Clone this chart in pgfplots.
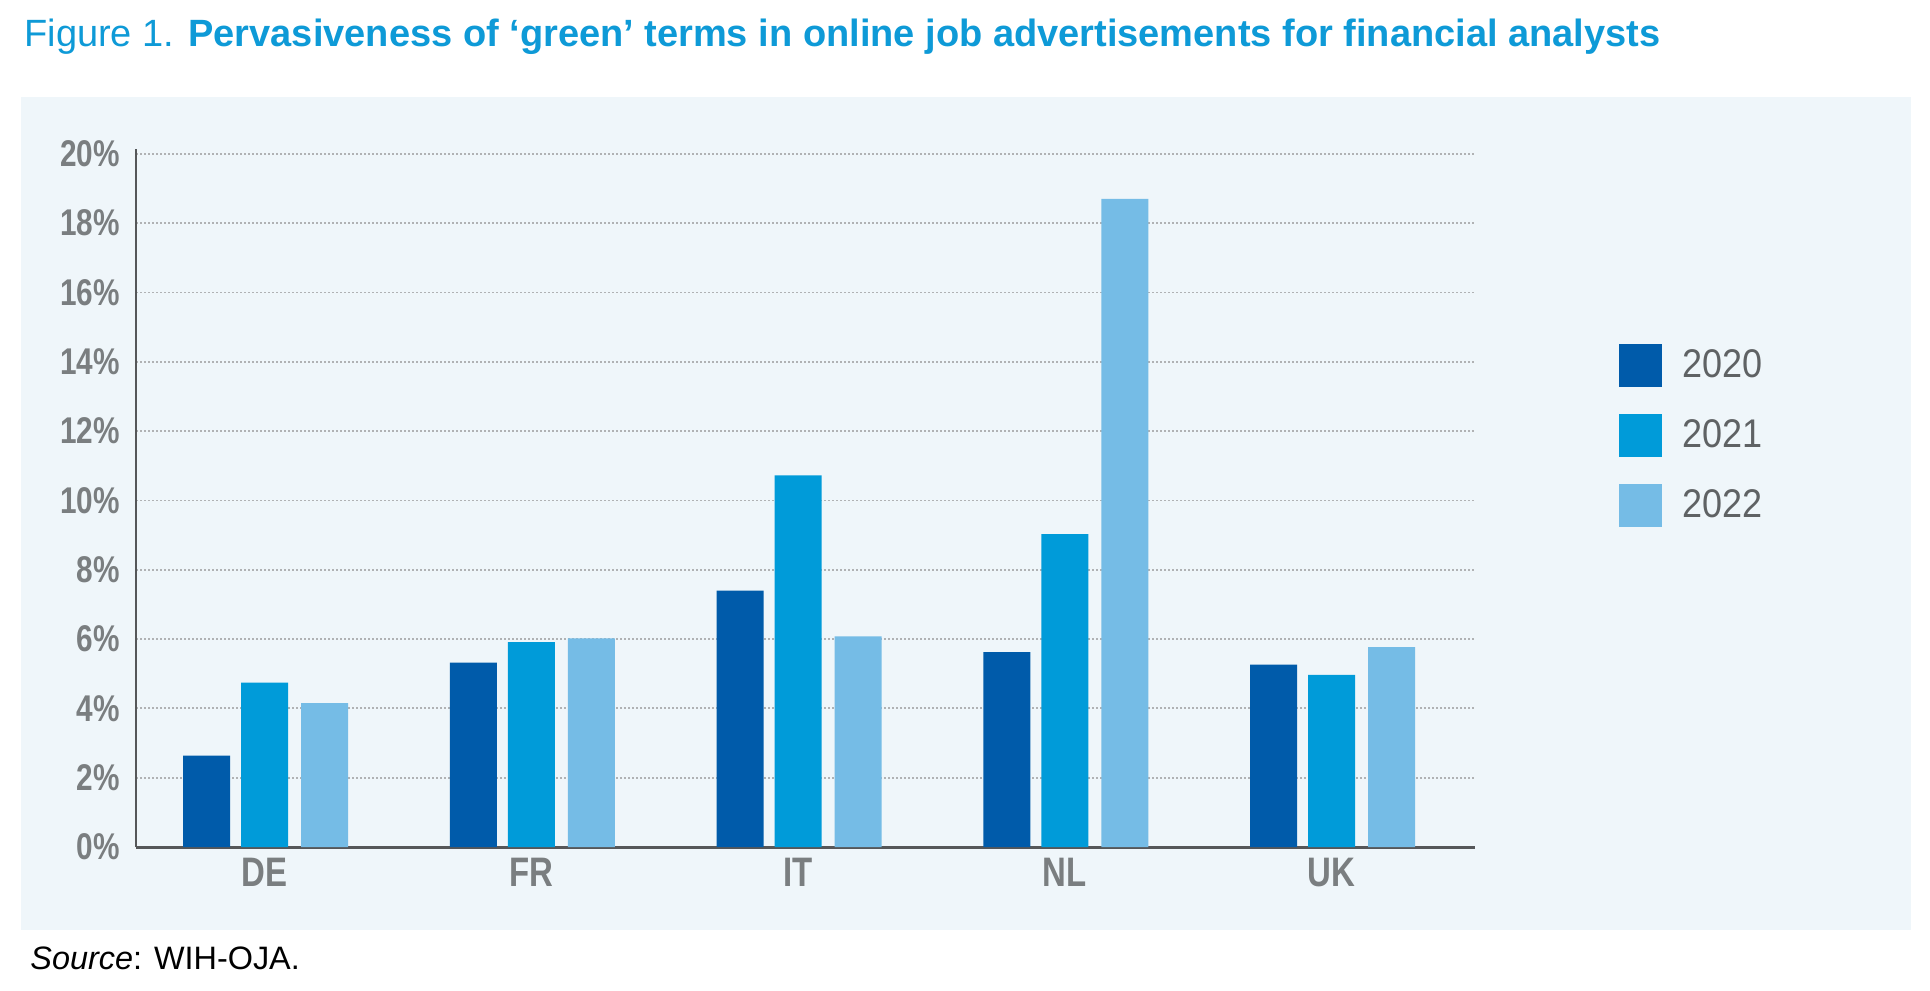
\documentclass[border=0pt]{standalone}
\usepackage{pgfplots}
\pgfplotsset{compat=1.18}
\usepackage{pgfplotstable}
\usepackage{fontspec}
\setmainfont{Liberation Sans}
\newfontfamily\condfont[FakeStretch=0.8]{Liberation Sans}
\newfontfamily\legfont[FakeStretch=0.9]{Liberation Sans}
\definecolor{cA}{HTML}{005BAA}
\definecolor{cB}{HTML}{009BD9}
\definecolor{cC}{HTML}{75BCE6}
\definecolor{titleblue}{HTML}{0E9AD7}
\definecolor{panel}{HTML}{EFF6FA}
\definecolor{tickgray}{HTML}{7A7E80}
\definecolor{leggray}{HTML}{5F6264}
\definecolor{axisgray}{HTML}{555759}
\definecolor{gridgray}{HTML}{B0B2B4}
\pgfplotsset{sqlegend/.style={legend image code/.code={\fill[##1] (0pt,-10.75pt) rectangle (21.5pt,10.75pt);}}}
\pgfplotstableread{
x c2020 c2021 c2022
0 2.64 4.74 4.15
1 5.32 5.91 6.02
2 7.40 10.72 6.08
3 5.62 9.03 18.70
4 5.26 4.97 5.77
}\datatable
\begin{document}
\begin{tikzpicture}
\useasboundingbox (0,0) rectangle (965pt,495pt);
\fill[white] (0,0) rectangle (965pt,495pt);
\fill[panel] (10.5pt,30pt) rectangle (955.5pt,446.5pt);
\node[anchor=base west, inner sep=0pt, text=titleblue, font=\fontsize{19}{21}\selectfont] at (12pt,471.7pt) {Figure 1. \textbf{Pervasiveness of ‘green’ terms in online job advertisements for financial analysts}};
\node[anchor=base west, inner sep=0pt, text=black, font=\fontsize{16.2}{18}\selectfont] at (15pt,10.5pt) {\textit{Source}: WIH-OJA.};
\begin{axis}[
  at={(68pt,71.5pt)}, anchor=south west,
  scale only axis, width=669.5pt, height=349pt,
  xmin=-0.482, xmax=4.538, ymin=0, ymax=20.14,
  ybar, bar width=23.5pt,
  axis x line*=bottom, axis y line*=left,
  x axis line style={-, line width=1.5pt, color=axisgray},
  y axis line style={-, line width=1.25pt, color=axisgray},
  xtick={0,1,2,3,4}, xticklabels={DE,FR,IT,NL,UK},
  ytick={0,2,...,20},
  major tick length=0pt,
  yticklabel={\pgfmathprintnumber{\tick}\%},
  /pgf/number format/assume math mode=true,
  yticklabel style={anchor=east, inner sep=0pt, xshift=-8pt, text=tickgray, font=\condfont\bfseries\fontsize{18.6}{20}\selectfont},
  xticklabel style={anchor=north, inner sep=0pt, yshift=-5.5pt, text=tickgray, font=\condfont\bfseries\fontsize{20.6}{22}\selectfont},
  ymajorgrids,
  grid style={color=gridgray, line width=0.9pt, dash pattern=on 0.9pt off 1.1pt},
  legend cell align=left,
  legend style={draw=none, fill=none, at={(1.1076,0.7206)}, anchor=north west, inner sep=0pt, outer sep=0pt, row sep=13.5pt, column sep=10pt, nodes={inner sep=0pt}, font=\legfont\fontsize{20}{22}\selectfont, text=leggray},
]
\addplot[fill=cA, draw=none, bar shift=-29pt, sqlegend] table[x=x, y=c2020] {\datatable};
\addlegendentry{2020}
\addplot[fill=cB, draw=none, bar shift=0pt, sqlegend] table[x=x, y=c2021] {\datatable};
\addlegendentry{2021}
\addplot[fill=cC, draw=none, bar shift=30pt, sqlegend] table[x=x, y=c2022] {\datatable};
\addlegendentry{2022}
\end{axis}
\end{tikzpicture}
\end{document}
